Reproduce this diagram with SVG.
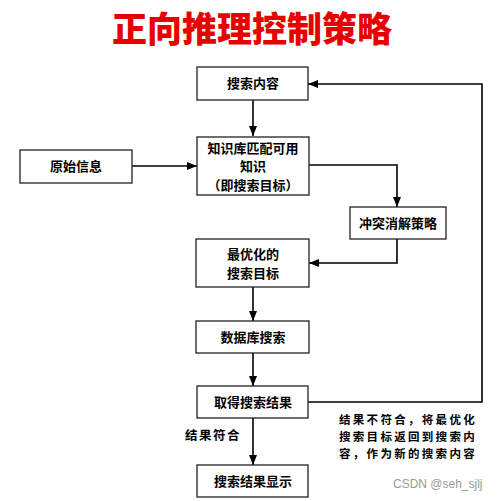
<svg xmlns="http://www.w3.org/2000/svg" width="504" height="501" viewBox="0 0 504 501">
<defs>
<marker id="ah" viewBox="0 0 10 10" refX="10" refY="5" markerWidth="10" markerHeight="10" markerUnits="userSpaceOnUse" orient="auto">
<path d="M0,1 L10,5 L0,9 Z" fill="#000"/>
</marker>
<style>
.box{fill:#fff;stroke:#222;stroke-width:1.3}
.t{font-family:"Noto Sans CJK SC","Liberation Sans",sans-serif;font-size:13px;font-weight:bold;fill:#000;text-anchor:middle}
.l{font-family:"Noto Sans CJK SC","Liberation Sans",sans-serif;font-size:11.5px;font-weight:bold;fill:#000;letter-spacing:2.3px}
.c{fill:none;stroke:#000;stroke-width:1.6}
</style>
</defs>
<rect width="504" height="501" fill="#fff"/>
<text x="252" y="42" text-anchor="middle" font-family="Noto Sans CJK SC, sans-serif" font-size="35" font-weight="900" fill="#e60000">正向推理控制策略</text>
<g id="connectors">
<line class="c" x1="253" y1="100" x2="253" y2="136" marker-end="url(#ah)"/>
<line class="c" x1="132" y1="166" x2="197" y2="166" marker-end="url(#ah)"/>
<polyline class="c" points="309,165 397,165 397,207" marker-end="url(#ah)"/>
<polyline class="c" points="397,239 397,263 309,263" marker-end="url(#ah)"/>
<line class="c" x1="253" y1="287" x2="253" y2="321" marker-end="url(#ah)"/>
<line class="c" x1="253" y1="353" x2="253" y2="386" marker-end="url(#ah)"/>
<line class="c" x1="253" y1="418" x2="253" y2="465" marker-end="url(#ah)"/>
<polyline class="c" points="308,402 482,402 482,84 308,84" marker-end="url(#ah)"/>
</g>
<g id="n_search_content"><rect class="box" x="197" y="67" width="111" height="33"/><text class="t" x="253" y="88">搜索内容</text></g>
<g id="n_kb"><rect class="box" x="197" y="137" width="112" height="58"/><text class="t" x="253" y="153">知识库匹配可用</text><text class="t" x="253" y="171">知识</text><text class="t" x="253" y="190">（即搜索目标）</text></g>
<g id="n_raw"><rect class="box" x="20" y="150" width="112" height="33"/><text class="t" x="76" y="171">原始信息</text></g>
<g id="n_conflict"><rect class="box" x="350" y="207" width="96" height="32"/><text class="t" x="398" y="228">冲突消解策略</text></g>
<g id="n_opt"><rect class="box" x="196" y="239" width="113" height="48"/><text class="t" x="253" y="259">最优化的</text><text class="t" x="253" y="278">搜索目标</text></g>
<g id="n_db"><rect class="box" x="196" y="321" width="113" height="32"/><text class="t" x="253" y="342">数据库搜索</text></g>
<g id="n_result"><rect class="box" x="197" y="386" width="111" height="32"/><text class="t" x="253" y="407">取得搜索结果</text></g>
<g id="n_show"><rect class="box" x="197" y="465" width="111" height="32"/><text class="t" x="253" y="486">搜索结果显示</text></g>
<text class="l" x="185" y="440" style="letter-spacing:1.5px;font-size:12.5px">结果符合</text>
<text class="l" x="339" y="424">结果不符合，将最优化</text>
<text class="l" x="339" y="441">搜索目标返回到搜索内</text>
<text class="l" x="339" y="458">容，作为新的搜索内容</text>
<text x="393" y="488" font-family="Liberation Sans, sans-serif" font-size="12" fill="#999">CSDN @seh_sjlj</text>
</svg>
